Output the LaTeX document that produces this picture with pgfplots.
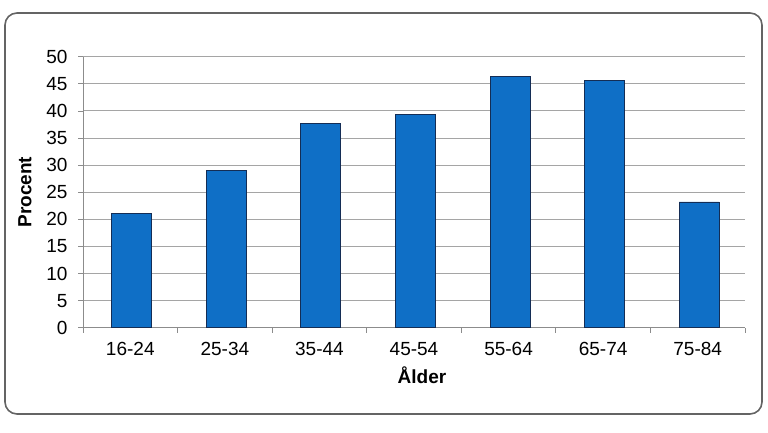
\documentclass[border=0pt]{standalone}
\usepackage{pgfplots}
\pgfplotsset{compat=1.18}
\usepackage{fontspec}
\setmainfont{Liberation Sans}
\definecolor{barfill}{RGB}{15,111,198}
\definecolor{baredge}{RGB}{20,45,85}
\definecolor{gridcol}{RGB}{165,165,165}
\definecolor{axiscol}{RGB}{140,140,140}
\definecolor{framecol}{RGB}{100,100,100}
\begin{document}
\begin{tikzpicture}[x=1pt,y=1pt]
\useasboundingbox (0,0) rectangle (768,432);
\draw[framecol, line width=1.6pt, rounded corners=12pt] (5,419) rectangle (762,18);
\begin{axis}[
  at={(83pt,104.3pt)}, anchor=south west,
  width=662pt, height=271pt, scale only axis,
  xmin=-0.5, xmax=6.5, ymin=0, ymax=50,
  xtick={0,...,6},
  xticklabels={16-24,25-34,35-44,45-54,55-64,65-74,75-84},
  minor xtick={-0.5,0.5,...,6.5},
  major x tick style={draw=none},
  ytick={0,5,...,50},
  tick align=outside,
  major tick length=5pt, minor tick length=5pt,
  tick style={axiscol, line width=0.8pt},
  axis x line*=bottom, axis y line*=left,
  axis line style={axiscol, line width=1pt, -},
  ymajorgrids, grid style={gridcol, line width=1pt},
  /pgf/number format/assume math mode=true,
  tick label style={font=\fontsize{19}{22}\selectfont, black},
  yticklabel style={xshift=-7pt},
  xticklabel style={yshift=-6pt},
  ylabel={\textbf{Procent}},
  xlabel={\textbf{Ålder}},
  label style={font=\fontsize{19}{22}\selectfont},
  ylabel style={at={(axis description cs:-0.0876,0.5)}, anchor=center},
  xlabel style={at={(axis description cs:0.512,-0.175)}, anchor=center},
  clip=false,
]
\addplot[ybar, bar width=40pt, bar shift=1.5pt, fill=barfill, draw=baredge, line width=0.9pt]
  coordinates {(0,21.1) (1,29.0) (2,37.6) (3,39.3) (4,46.4) (5,45.6) (6,23.2)};
\end{axis}
\end{tikzpicture}
\end{document}
